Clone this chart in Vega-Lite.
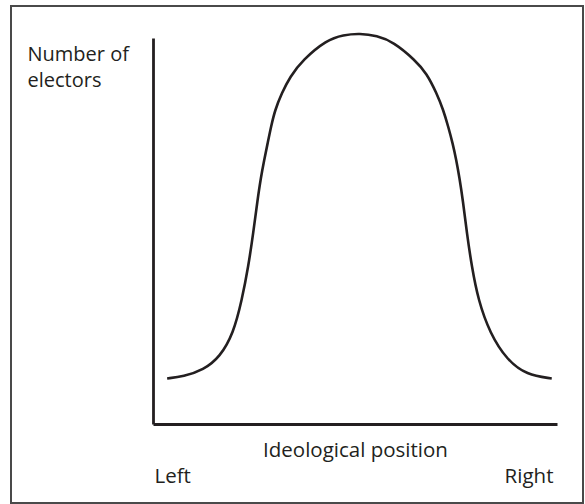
{
  "$schema": "https://vega.github.io/schema/vega-lite/v6.json",
  "width": 404,
  "height": 386,
  "autosize": {"type": "none"},
  "padding": {"left": 153, "top": 38, "right": 28, "bottom": 80},
  "background": "white",
  "config": {
    "view": {"stroke": null},
    "font": "Open Sans"
  },
  "data": {
    "values": [
      {"position": 3.5, "electors": 11.8},
      {"position": 7.5, "electors": 12.3},
      {"position": 12.5, "electors": 14.0},
      {"position": 16.6, "electors": 17.4},
      {"position": 19.9, "electors": 23.5},
      {"position": 22.0, "electors": 32.1},
      {"position": 23.6, "electors": 40.8},
      {"position": 24.8, "electors": 49.4},
      {"position": 25.87, "electors": 58.0},
      {"position": 26.68, "electors": 63.7},
      {"position": 27.52, "electors": 68.4},
      {"position": 28.37, "electors": 72.7},
      {"position": 29.21, "electors": 77.0},
      {"position": 30.2, "electors": 81.35},
      {"position": 31.86, "electors": 85.67},
      {"position": 33.91, "electors": 89.97},
      {"position": 37.05, "electors": 94.3},
      {"position": 43.0, "electors": 99.5},
      {"position": 47.1, "electors": 100.8},
      {"position": 51.2, "electors": 101.2},
      {"position": 55.4, "electors": 100.6},
      {"position": 59.5, "electors": 99.0},
      {"position": 64.85, "electors": 94.3},
      {"position": 67.75, "electors": 90.85},
      {"position": 70.22, "electors": 85.67},
      {"position": 71.86, "electors": 81.35},
      {"position": 73.09, "electors": 77.0},
      {"position": 74.18, "electors": 72.7},
      {"position": 75.07, "electors": 68.4},
      {"position": 75.87, "electors": 63.7},
      {"position": 76.7, "electors": 58.0},
      {"position": 77.7, "electors": 49.4},
      {"position": 78.9, "electors": 40.8},
      {"position": 80.5, "electors": 32.1},
      {"position": 83.4, "electors": 23.5},
      {"position": 87.6, "electors": 16.6},
      {"position": 92.5, "electors": 12.7},
      {"position": 98.7, "electors": 11.8}
    ]
  },
  "layer": [
    {
      "mark": {"type": "rect", "fill": null, "stroke": "#4a4a4a", "strokeWidth": 1.2},
      "encoding": {
        "x": {"datum": -35.15, "type": "quantitative"},
        "x2": {"datum": 106.44},
        "y": {"datum": -20.47, "type": "quantitative"},
        "y2": {"datum": 108.29}
      }
    },
    {
      "mark": {"type": "line", "interpolate": "basis", "color": "#231f20", "strokeWidth": 2.6},
      "encoding": {
        "x": {
          "field": "position",
          "type": "quantitative",
          "scale": {"domain": [0, 100], "nice": false, "zero": false},
          "axis": {
            "title": "Ideological position",
            "titleFont": "Open Sans",
            "titleFontSize": 20.5,
            "titleFontWeight": "normal",
            "titleColor": "#231f20",
            "titleBaseline": "alphabetic",
            "titleY": 32,
            "values": [0.25, 99],
            "labelExpr": "datum.value < 50 ? 'Left' : 'Right'",
            "labelAlign": {"condition": {"test": "datum.value < 50", "value": "left"}, "value": "right"},
            "labelFont": "Open Sans",
            "labelFontSize": 20.5,
            "labelColor": "#231f20",
            "labelBaseline": "alphabetic",
            "labelPadding": 58,
            "ticks": false,
            "tickSize": 0,
            "grid": false,
            "domainColor": "#231f20",
            "domainWidth": 2.8
          }
        },
        "y": {
          "field": "electors",
          "type": "quantitative",
          "scale": {"domain": [0, 100], "nice": false, "zero": false},
          "axis": {
            "title": ["Number of", "electors"],
            "titleFont": "Open Sans",
            "titleFontSize": 20,
            "titleFontWeight": "normal",
            "titleColor": "#231f20",
            "titleAngle": 0,
            "titleAlign": "left",
            "titleBaseline": "alphabetic",
            "titleX": -126,
            "titleY": 22,
            "titleLineHeight": 26,
            "labels": false,
            "ticks": false,
            "grid": false,
            "domainColor": "#231f20",
            "domainWidth": 2.8
          }
        }
      }
    }
  ]
}
